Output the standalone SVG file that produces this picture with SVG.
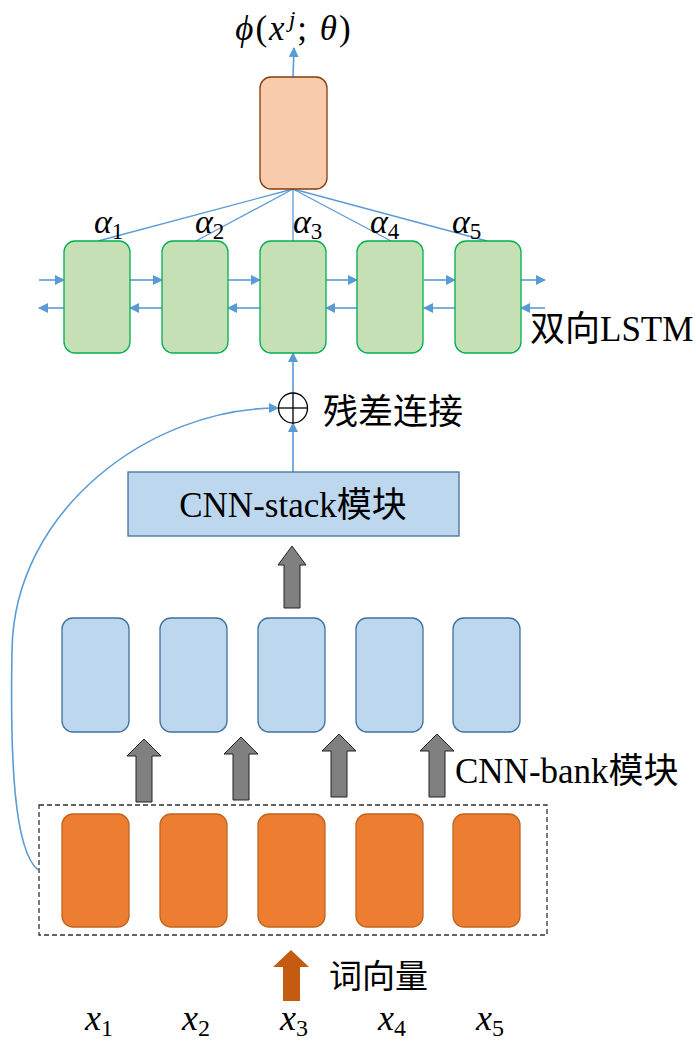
<svg xmlns="http://www.w3.org/2000/svg" width="696" height="1041" viewBox="0 0 696 1041">
<defs>
<style>
.lstm{fill:#C5E0B4;stroke:#00B050;stroke-width:1.3}
.bank{fill:#BDD7EE;stroke:#41719C;stroke-width:1.3}
.emb{fill:#ED7D31;stroke:#C0651E;stroke-width:1.3}
.out{fill:#F8CBAD;stroke:#843C0C;stroke-width:1.3}
.ln{stroke:#5B9BD5;stroke-width:1.3;fill:none}
.arr{stroke:#5B9BD5;stroke-width:1.6;fill:none;marker-end:url(#ah)}
.gray{fill:#808080;stroke:#222;stroke-width:1}
.math{font-family:"Liberation Serif","DejaVu Serif",serif;font-style:italic;fill:#000}
.lat{font-family:"Liberation Serif","Noto Sans CJK SC",serif;fill:#000}
.cjk{font-family:"Noto Sans CJK SC",sans-serif;fill:#000}
</style>
<marker id="ah" viewBox="0 0 10 10" refX="9" refY="5" markerWidth="10" markerHeight="10" markerUnits="userSpaceOnUse" orient="auto">
<path d="M0,0 L10,5 L0,10 z" fill="#5B9BD5"/>
</marker>
</defs>
<rect width="696" height="1041" fill="#fff"/>

<g id="connectors">
<line class="arr" x1="293" y1="77" x2="294" y2="48"/>
<line class="ln" x1="293" y1="189" x2="98" y2="241"/>
<line class="ln" x1="293" y1="189" x2="196" y2="241"/>
<line class="ln" x1="293" y1="189" x2="293" y2="241"/>
<line class="ln" x1="293" y1="189" x2="391" y2="241"/>
<line class="ln" x1="293" y1="189" x2="487" y2="241"/>
<line class="arr" x1="39" y1="280" x2="64" y2="280"/>
<line class="arr" x1="130" y1="280" x2="162" y2="280"/>
<line class="arr" x1="228" y1="280" x2="260" y2="280"/>
<line class="arr" x1="326" y1="280" x2="357" y2="280"/>
<line class="arr" x1="424" y1="280" x2="455" y2="280"/>
<line class="arr" x1="521" y1="280" x2="545" y2="280"/>
<line class="arr" x1="64" y1="308" x2="39" y2="308"/>
<line class="arr" x1="162" y1="308" x2="130" y2="308"/>
<line class="arr" x1="260" y1="308" x2="228" y2="308"/>
<line class="arr" x1="357" y1="308" x2="326" y2="308"/>
<line class="arr" x1="455" y1="308" x2="424" y2="308"/>
<line class="arr" x1="545" y1="308" x2="521" y2="308"/>
<line class="arr" x1="293" y1="393" x2="293" y2="353"/>
<line class="arr" x1="293" y1="472" x2="293" y2="423"/>
<path class="arr" d="M38,870 C14,850 10,760 12,650 C14,510 150,408 278,408"/>
</g>

<g id="output">
<text class="math" x="294" y="40" font-size="35" text-anchor="middle" letter-spacing="2">ϕ<tspan font-style="normal">(</tspan>x<tspan dx="2" dy="-13" font-size="24">j</tspan><tspan dy="13" font-style="normal">; </tspan>θ<tspan font-style="normal">)</tspan></text>
<rect class="out" x="260" y="77" width="67" height="112" rx="11"/>
</g>

<g id="lstm">
<rect class="lstm" x="64" y="241" width="66" height="112" rx="11"/>
<rect class="lstm" x="162" y="241" width="66" height="112" rx="11"/>
<rect class="lstm" x="260" y="241" width="66" height="112" rx="11"/>
<rect class="lstm" x="357" y="241" width="66" height="112" rx="11"/>
<rect class="lstm" x="455" y="241" width="66" height="112" rx="11"/>
<text class="math" x="94" y="233" font-size="34">α<tspan font-style="normal" font-size="23" dy="6">1</tspan></text>
<text class="math" x="195" y="233" font-size="34">α<tspan font-style="normal" font-size="23" dy="6">2</tspan></text>
<text class="math" x="293" y="233" font-size="34">α<tspan font-style="normal" font-size="23" dy="6">3</tspan></text>
<text class="math" x="370" y="233" font-size="34">α<tspan font-style="normal" font-size="23" dy="6">4</tspan></text>
<text class="math" x="452" y="233" font-size="34">α<tspan font-style="normal" font-size="23" dy="6">5</tspan></text>
<text class="lat" x="530" y="341" font-size="35"><tspan font-family="Noto Sans CJK SC,sans-serif">双向</tspan>LSTM</text>
</g>

<g id="residual">
<ellipse cx="293" cy="408" rx="14.5" ry="15" fill="#fff" stroke="#000" stroke-width="1.3"/>
<line x1="278.5" y1="408" x2="307.5" y2="408" stroke="#000" stroke-width="1.3"/>
<line x1="293" y1="393" x2="293" y2="423" stroke="#000" stroke-width="1.3"/>
<text class="cjk" x="323" y="424" font-size="35">残差连接</text>
</g>

<g id="cnn-stack">
<rect class="bank" x="128" y="472" width="331" height="64"/>
<text class="lat" x="293" y="517" font-size="35" text-anchor="middle">CNN-stack<tspan font-family="Noto Sans CJK SC,sans-serif">模块</tspan></text>
<path class="gray" d="M284,608 L284,565 L278,565 L292,546 L306,565 L300,565 L300,608 z"/>
</g>

<g id="cnn-bank">
<rect class="bank" x="62" y="618" width="67" height="114" rx="11"/>
<rect class="bank" x="160" y="618" width="67" height="114" rx="11"/>
<rect class="bank" x="258" y="618" width="67" height="114" rx="11"/>
<rect class="bank" x="356" y="618" width="67" height="114" rx="11"/>
<rect class="bank" x="453" y="618" width="67" height="114" rx="11"/>
<path class="gray" d="M136,802 L136,756 L127,756 L144,739 L161,756 L152,756 L152,802 z"/>
<path class="gray" d="M233,800 L233,754 L224,754 L241,737 L258,754 L249,754 L249,800 z"/>
<path class="gray" d="M331,797 L331,751 L322,751 L339,734 L356,751 L347,751 L347,797 z"/>
<path class="gray" d="M429,797 L429,751 L420,751 L437,734 L454,751 L445,751 L445,797 z"/>
<text class="lat" x="455" y="783" font-size="35">CNN-bank<tspan font-family="Noto Sans CJK SC,sans-serif">模块</tspan></text>
</g>

<g id="embedding">
<rect x="39" y="805" width="508" height="130" fill="none" stroke="#333" stroke-width="1.3" stroke-dasharray="5,3"/>
<rect class="emb" x="62" y="814" width="67" height="113" rx="11"/>
<rect class="emb" x="160" y="814" width="67" height="113" rx="11"/>
<rect class="emb" x="258" y="814" width="67" height="113" rx="11"/>
<rect class="emb" x="356" y="814" width="67" height="113" rx="11"/>
<rect class="emb" x="453" y="814" width="67" height="113" rx="11"/>
<path d="M283,1001 L283,967 L273,967 L291,950 L309,967 L300,967 L300,1001 z" fill="#C55A11"/>
<text class="cjk" x="329" y="988" font-size="33">词向量</text>
</g>

<g id="inputs">
<text class="math" x="85" y="1030" font-size="36">x<tspan font-style="normal" font-size="24" dy="6">1</tspan></text>
<text class="math" x="182" y="1030" font-size="36">x<tspan font-style="normal" font-size="24" dy="6">2</tspan></text>
<text class="math" x="280" y="1030" font-size="36">x<tspan font-style="normal" font-size="24" dy="6">3</tspan></text>
<text class="math" x="378" y="1030" font-size="36">x<tspan font-style="normal" font-size="24" dy="6">4</tspan></text>
<text class="math" x="476" y="1030" font-size="36">x<tspan font-style="normal" font-size="24" dy="6">5</tspan></text>
</g>
</svg>
